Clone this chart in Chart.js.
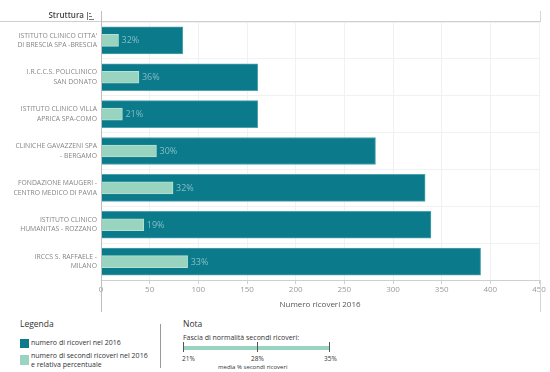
<!DOCTYPE html>
<html>
<head>
<meta charset="utf-8">
<script src="https://cdn.jsdelivr.net/npm/chart.js@4"></script>
<style>
  html, body { margin:0; padding:0; background:#fff; }
  body { width:550px; height:372px; position:relative; overflow:hidden; font-family:"Open Sans", Lato, sans-serif; }
  #wrap { position:absolute; left:0; top:0; width:550px; height:315px; }
  .t { position:absolute; white-space:nowrap; color:#333; line-height:1; }
  .sq { position:absolute; width:9px; height:9px; }
</style>
</head>
<body>
<div id="wrap"><canvas id="c" width="550" height="315"></canvas></div>

<div class="t" style="left:20px; top:320px; font-size:8.5px; color:#333;">Legenda</div>
<div class="sq" style="left:20px; top:339px; background:#0B7A8A;"></div>
<div class="t" style="left:31px; top:339px; font-size:7px; color:#333;">numero di ricoveri nel 2016</div>
<div class="sq" style="left:20px; top:355px; height:10px; background:#99D4C0;"></div>
<div class="t" style="left:31px; top:351px; font-size:7px; color:#333; line-height:9px;">numero di secondi ricoveri nel 2016<br>e relativa percentuale</div>
<div style="position:absolute; left:160px; top:324px; width:1px; height:44px; background:#999;"></div>

<div class="t" style="left:183px; top:320px; font-size:8.5px; color:#333;">Nota</div>
<div class="t" style="left:183px; top:334px; font-size:7px; color:#333;">Fascia di normalità secondi ricoveri:</div>
<div style="position:absolute; left:184px; top:346px; width:145px; height:4px; background:#99D4C0;"></div>
<div style="position:absolute; left:183px; top:342px; width:1px; height:10px; background:#555;"></div>
<div style="position:absolute; left:257px; top:342px; width:1px; height:10px; background:#555;"></div>
<div style="position:absolute; left:329px; top:342px; width:1px; height:10px; background:#555;"></div>
<div class="t" style="left:182px; top:356px; font-size:6.5px; color:#333;">21%</div>
<div class="t" style="left:251px; top:356px; font-size:6.5px; color:#333;">28%</div>
<div class="t" style="left:324px; top:356px; font-size:6.5px; color:#333;">35%</div>
<div class="t" style="left:218px; top:364px; font-size:6px; color:#333;">media % secondi ricoveri</div>

<script>
const categories = [
  ["ISTITUTO CLINICO CITTA'", "DI BRESCIA SPA -BRESCIA"],
  ["I.R.C.C.S. POLICLINICO", "SAN DONATO"],
  ["ISTITUTO CLINICO VILLA", "APRICA SPA-COMO"],
  ["CLINICHE GAVAZZENI SPA", "- BERGAMO"],
  ["FONDAZIONE MAUGERI -", "CENTRO MEDICO DI PAVIA"],
  ["ISTITUTO CLINICO", "HUMANITAS - ROZZANO"],
  ["IRCCS S. RAFFAELE -", "MILANO"]
];
const ricoveri2016 = [84, 161, 161, 282, 333, 339, 390];
const secondiRicoveri = [18, 39, 22, 57, 74, 44, 89];
const percentuali = ["32%", "36%", "21%", "30%", "32%", "19%", "33%"];
const xTicks = [0, 50, 100, 150, 200, 250, 300, 350, 400, 450];

const DARK = '#0B7A8A';
const LIGHT = '#99D4C0';

const decor = {
  id: 'decor',
  afterDatasetsDraw(chart) {
    const ctx = chart.ctx;
    const meta = chart.getDatasetMeta(1);
    ctx.save();
    ctx.font = '9px "Open Sans", sans-serif';
    ctx.fillStyle = '#86BEC6';
    ctx.textBaseline = 'middle';
    ctx.textAlign = 'left';
    meta.data.forEach((el, i) => {
      ctx.fillText(percentuali[i], el.x + 3, el.y + 0.5);
    });
    ctx.restore();
  },
  afterDraw(chart) {
    const ctx = chart.ctx;
    const a = chart.chartArea;
    ctx.save();
    ctx.strokeStyle = '#cfcfcf';
    ctx.lineWidth = 1;
    ctx.beginPath();
    ctx.moveTo(0, Math.round(a.top) - 0.5);
    ctx.lineTo(a.right + 1, Math.round(a.top) - 0.5);
    ctx.stroke();
    ctx.strokeStyle = '#bdbdbd';
    ctx.beginPath();
    ctx.moveTo(Math.round(a.left) + 0.5, 11);
    ctx.lineTo(Math.round(a.left) + 0.5, 312);
    ctx.stroke();
    ctx.strokeStyle = '#d5d5d5';
    ctx.beginPath();
    ctx.moveTo(Math.round(a.right) + 1.5, 11);
    ctx.lineTo(Math.round(a.right) + 1.5, a.top);
    ctx.moveTo(Math.round(a.right) + 1.5, a.bottom);
    ctx.lineTo(Math.round(a.right) + 1.5, 312);
    ctx.stroke();
    ctx.font = '600 8px "Open Sans", sans-serif';
    ctx.fillStyle = '#444';
    ctx.textAlign = 'right';
    ctx.textBaseline = 'middle';
    ctx.fillText('Struttura', 84, 16);
    ctx.strokeStyle = '#777';
    ctx.lineWidth = 1;
    ctx.beginPath();
    ctx.moveTo(87.5, 12); ctx.lineTo(87.5, 20);
    ctx.moveTo(89, 13.5); ctx.lineTo(91, 13.5);
    ctx.moveTo(89, 16.5); ctx.lineTo(92, 16.5);
    ctx.moveTo(89, 19.5); ctx.lineTo(94, 19.5);
    ctx.stroke();
    ctx.restore();
  }
};

new Chart(document.getElementById('c'), {
  type: 'bar',
  data: {
    labels: categories,
    datasets: [
      {
        label: 'numero di ricoveri nel 2016',
        data: ricoveri2016,
        backgroundColor: DARK,
        borderColor: '#4FA3AF',
        borderWidth: 1,
        barThickness: 27,
        grouped: false,
        order: 2
      },
      {
        label: 'numero di secondi ricoveri nel 2016',
        data: secondiRicoveri,
        backgroundColor: LIGHT,
        borderColor: '#B5E2D3',
        borderWidth: 1,
        barThickness: 12,
        grouped: false,
        order: 1
      }
    ]
  },
  options: {
    indexAxis: 'y',
    responsive: false,
    animation: false,
    layout: { padding: { top: 22, right: 11, left: 0, bottom: 5 } },
    plugins: { legend: { display: false }, tooltip: { enabled: false } },
    scales: {
      x: {
        min: 0, max: 450,
        afterBuildTicks(scale) { scale.ticks = xTicks.map(v => ({ value: v })); },
        afterFit(scale) { scale.height = 30; },
        grid: { color: '#f1f1f1', tickColor: '#d0d0d0', tickLength: 4, drawTicks: true },
        border: { color: '#cfcfcf' },
        ticks: { color: '#9a9a9a', font: { size: 8, family: '"Open Sans", sans-serif' }, padding: 1, maxRotation: 0 },
        title: { display: true, text: 'Numero ricoveri 2016', color: '#555', font: { size: 8, family: '"Open Sans", sans-serif' }, padding: { top: 1, bottom: 0 } }
      },
      y: {
        afterFit(scale) { scale.width = 101; },
        grid: { color: '#f1f1f1', drawTicks: false, offset: true },
        border: { display: false },
        ticks: { color: '#858585', font: { size: 6.8, family: '"Open Sans", sans-serif', lineHeight: 1.4 }, padding: 4 }
      }
    }
  },
  plugins: [decor]
});
</script>
</body>
</html>
